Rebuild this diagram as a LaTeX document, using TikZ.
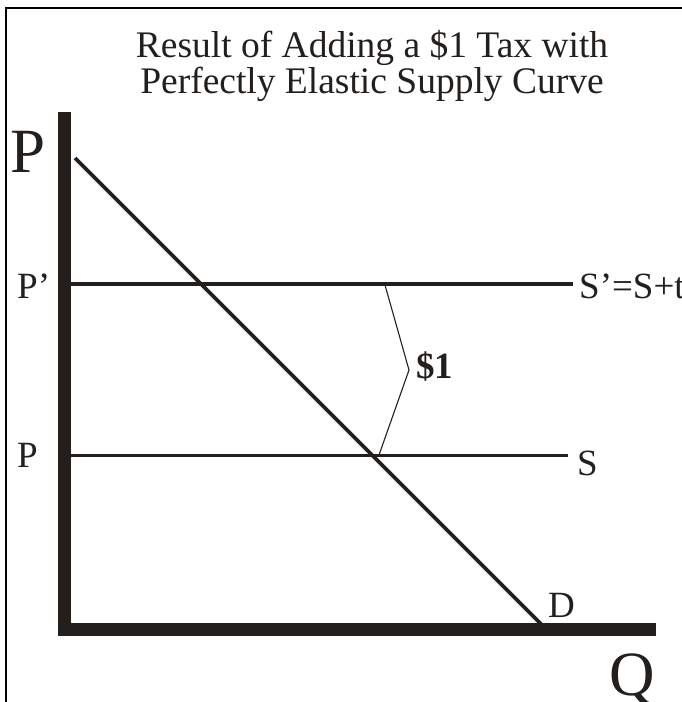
\documentclass[tikz,border=0pt]{standalone}
\usepackage{fontspec}
\setmainfont{Liberation Serif}
\usetikzlibrary{positioning, calc}
\definecolor{inkBlack}{HTML}{231F1C}
\tikzset{
  axisline/.style={line width=13pt, draw=inkBlack, line join=miter},
  curve/.style={line width=3.6pt, draw=inkBlack},
  taxline/.style={line width=1.1pt, draw=inkBlack},
  frameline/.style={line width=2.6pt, draw=black},
  lbl/.style={font=\fontsize{37}{40}\selectfont, inner sep=0pt, text=inkBlack, anchor=base west},
  biglbl/.style={font=\fontsize{63}{66}\selectfont, inner sep=0pt, text=inkBlack, anchor=base west},
  titletext/.style={font=\fontsize{37.5}{33}\selectfont, inner sep=0pt, text=inkBlack, align=center},
}

\begin{document}
\begin{tikzpicture}[x=1pt, y=-1pt]
  \useasboundingbox (0,0) rectangle (682,702);

  % ---- Frame and title ----------------------------------------------------
  \draw[frameline] (6,702) -- (6,8) -- (682,8);
  \node[titletext, anchor=base] (title) at (372,93)
    {Result of Adding a \$1 Tax with\\Perfectly Elastic Supply Curve};

  % ---- Axes ---------------------------------------------------------------
  \coordinate (ytop)   at (64.5,112);
  \coordinate (origin) at (64.5,629.5);
  \coordinate (xend)   at (656,629.5);
  \draw[axisline] (ytop) -- (origin) -- (xend);
  \node[biglbl] (pAxis) at (10,172)  {P};
  \node[biglbl] (qAxis) at (609,695) {Q};

  % ---- Price labels and supply curves -------------------------------------
  \node[lbl] (pTax)  at (17,298)  {P’};
  \node[lbl] (pBase) at (17,467)  {P};
  \node[lbl] (sTax)  at (579,298) {S’=S+t};
  \node[lbl] (sBase) at (577,475) {S};
  \coordinate (sTaxL)  at (71,284);
  \coordinate (sTaxR)  at (573,284);
  \coordinate (sBaseL) at (71,455.5);
  \coordinate (sBaseR) at (568,455.5);
  \draw[curve] (sTaxL)  -- (sTaxR);
  \draw[curve] (sBaseL) -- (sBaseR);

  % ---- Demand -------------------------------------------------------------
  \coordinate (dTop) at (75,158);
  \coordinate (dBot) at (541,624);
  \draw[curve] (dTop) -- (dBot);
  \node[lbl] (dLbl) at (548,617) {D};

  % ---- Tax wedge ----------------------------------------------------------
  \coordinate (wTop) at (385,285);
  \coordinate (wMid) at (409,370);
  \coordinate (wBot) at (379,455);
  \draw[taxline] (wTop) -- (wMid) -- (wBot);
  \node[lbl, font=\fontsize{37}{40}\selectfont\bfseries] (tax) at (416,378) {\$1};

\end{tikzpicture}
\end{document}
